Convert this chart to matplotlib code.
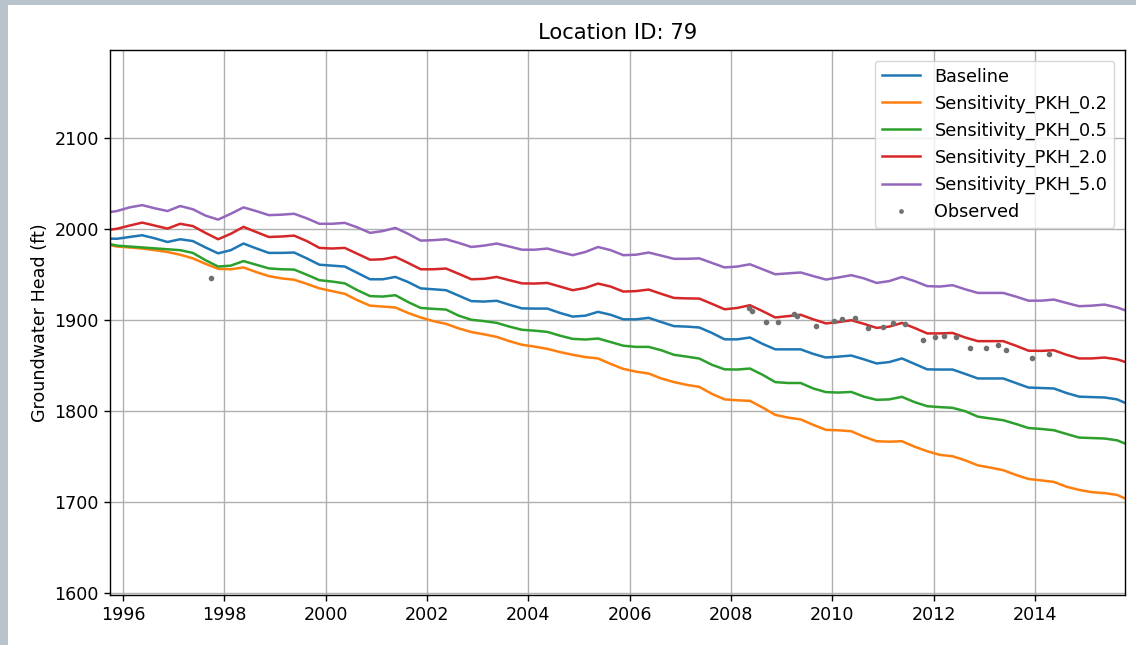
import numpy as np
import matplotlib
matplotlib.use("Agg")
import matplotlib.pyplot as plt
from matplotlib.patches import Rectangle

# time grid: Oct 1995, then quarterly mid-points (Y+.125, .375, .625, .875), end Sep 2015
quarters = [0.125, 0.375, 0.625, 0.875]
time = [1995.75, 1995.875] + [y + q for y in range(1996, 2015) for q in quarters] \
       + [2015.125, 2015.375, 2015.625, 2015.78]

baseline = [1989.7, 1989.5,
    1991.5, 1993.4, 1990, 1986,
    1989, 1987, 1980, 1973.5,
    1977, 1984.3, 1979, 1974,
    1974, 1974.4, 1968, 1961,
    1960, 1959, 1952, 1945,
    1945, 1947.6, 1942, 1935,
    1934, 1933, 1927, 1921,
    1920.5, 1921.4, 1917, 1913,
    1912.8, 1912.8, 1908, 1904,
    1905, 1909.2, 1906, 1901,
    1901, 1902.6, 1898, 1893.5,
    1893, 1892, 1886, 1879,
    1879, 1881, 1874, 1868,
    1868, 1868, 1863, 1859,
    1860, 1861.2, 1857, 1852.5,
    1854, 1858, 1852, 1846,
    1845.8, 1845.8, 1841, 1836,
    1836, 1836, 1831, 1826,
    1825.5, 1825, 1820, 1816,
    1815.5, 1815.1, 1813, 1809.2]

pkh_02 = [1982.4, 1981,
    1980, 1978.8, 1977, 1975,
    1972, 1968, 1962, 1956.5,
    1956, 1958, 1953, 1948.5,
    1946, 1944.5, 1940, 1935,
    1932, 1929, 1922, 1916,
    1915, 1914, 1908, 1903,
    1899, 1896, 1891, 1887,
    1884.5, 1881.7, 1877, 1873,
    1871, 1868.5, 1865, 1862,
    1859.5, 1858, 1852, 1846.5,
    1843.5, 1841.4, 1836, 1832,
    1829, 1826.7, 1819, 1813,
    1812, 1811.4, 1804, 1796,
    1793, 1791, 1785, 1779.5,
    1779, 1778, 1772, 1767,
    1766.5, 1767, 1761, 1756,
    1752, 1750.5, 1746, 1740.5,
    1738, 1735.2, 1730, 1725.5,
    1724, 1722.3, 1717, 1713.5,
    1711, 1710, 1708, 1704.1]

pkh_05 = [1983.5, 1982,
    1981, 1980, 1979, 1978,
    1977, 1974, 1966, 1959,
    1960, 1965, 1961, 1957,
    1956, 1955.7, 1950, 1944,
    1942.5, 1940.5, 1933, 1926.5,
    1926, 1927.5, 1920, 1913.5,
    1912.5, 1911.7, 1905, 1900.5,
    1899, 1897.1, 1893, 1889.5,
    1888.5, 1887.2, 1883, 1879.5,
    1878.8, 1879.9, 1876, 1872,
    1870.7, 1870.7, 1867, 1862,
    1860, 1857.9, 1851, 1846,
    1845.8, 1846.9, 1840, 1832,
    1831, 1831, 1825, 1821,
    1820.5, 1821.2, 1816, 1812.5,
    1813, 1815.8, 1810, 1805.5,
    1804.5, 1803.7, 1800, 1794,
    1792, 1790.1, 1786, 1781.5,
    1780.5, 1779.1, 1775, 1771,
    1770.5, 1770, 1768, 1764.5]

pkh_20 = [1999.6, 2000.5,
    2004, 2007.3, 2004, 2000.7,
    2006, 2003.5, 1996, 1989,
    1995, 2002.6, 1997, 1991.5,
    1992, 1993, 1987, 1979.5,
    1978.8, 1979.5, 1973, 1966.5,
    1967, 1969.6, 1963, 1956,
    1956, 1956.8, 1951, 1945,
    1945.5, 1947.6, 1944, 1940.5,
    1940.3, 1941, 1937, 1933,
    1935.5, 1940.3, 1937, 1931.5,
    1932, 1933.7, 1929, 1924.5,
    1924, 1923.8, 1918, 1912,
    1913.5, 1916.5, 1910, 1903,
    1904.5, 1906, 1901, 1896.5,
    1898, 1900, 1896, 1891.6,
    1893, 1897, 1891.5, 1885.5,
    1885.5, 1886, 1881, 1877,
    1877, 1877, 1872, 1866.5,
    1866.3, 1867, 1862, 1858,
    1858, 1859, 1857, 1854.2]

pkh_50 = [2019, 2020,
    2024, 2026.5, 2023, 2020,
    2025.5, 2022, 2015, 2010.6,
    2017, 2024, 2020, 2015.5,
    2016, 2017, 2012, 2006,
    2006, 2007, 2002, 1996,
    1998, 2001.5, 1995, 1987.5,
    1988, 1989, 1985, 1980.5,
    1982, 1984.3, 1981, 1977.5,
    1977.5, 1978.8, 1975, 1971.5,
    1975, 1980.5, 1977, 1971.5,
    1972, 1974.4, 1971, 1967.5,
    1967.5, 1968, 1963, 1958,
    1959, 1961.5, 1956, 1950.5,
    1951.5, 1952.5, 1948.5, 1944.7,
    1947, 1949.5, 1946, 1941,
    1943, 1947.5, 1943, 1937.5,
    1937, 1938.5, 1934, 1930,
    1930, 1930, 1926, 1921.5,
    1921.5, 1922.7, 1919, 1915.4,
    1916, 1917.2, 1914, 1911]

obs_time = [1997.74, 2008.35, 2008.42, 2008.69, 2008.93, 2009.25, 2009.31, 2009.67,
            2010.04, 2010.2, 2010.45, 2010.7, 2011.0, 2011.19, 2011.44, 2011.79,
            2012.02, 2012.2, 2012.45, 2012.71, 2013.04, 2013.27, 2013.43, 2013.94, 2014.27]
obs_head = [1946.5, 1913, 1910, 1898, 1898, 1906.5, 1905, 1893.4,
            1899.3, 1900.8, 1901.9, 1891.8, 1892.9, 1897.3, 1895.5, 1878.3,
            1881.3, 1883, 1881.3, 1870, 1869.8, 1872.5, 1867.8, 1859, 1862.6]

series_names = ["Baseline", "Sensitivity_PKH_0.2", "Sensitivity_PKH_0.5",
                "Sensitivity_PKH_2.0", "Sensitivity_PKH_5.0"]
series_values = [baseline, pkh_02, pkh_05, pkh_20, pkh_50]
series_colors = ["#1f77b4", "#ff7f0e", "#2ca02c", "#d62728", "#9467bd"]

x_ticks = list(range(1996, 2015, 2))
y_ticks = [1600, 1700, 1800, 1900, 2000, 2100]

fig = plt.figure(figsize=(11.36, 6.45), dpi=100)
fig.patch.set_facecolor("#b9c3cb")
fig.add_artist(Rectangle((8 / 1136, 0), 1, 1 - 5 / 645, transform=fig.transFigure,
                         facecolor="white", edgecolor="none", zorder=0))
ax = fig.add_axes([110 / 1136, 1 - 595 / 645, 1015 / 1136, 545 / 645])

for name, vals, col in zip(series_names, series_values, series_colors):
    ax.plot(time, vals, color=col, lw=1.8, label=name, solid_joinstyle="round")
ax.plot(obs_time, obs_head, ls="none", marker="o", ms=3.0, color="#707070",
        label="Observed")

ax.set_xlim(1995.74, 2015.78)
ax.set_ylim(1598, 2197)
ax.set_xticks(x_ticks)
ax.set_xticklabels([str(t) for t in x_ticks])
ax.set_yticks(y_ticks)
ax.tick_params(labelsize=12.6, length=4.5, width=1.0)
ax.grid(True, color="#b0b0b0", lw=1.0)
ax.set_axisbelow(True)
for s in ax.spines.values():
    s.set_linewidth(1.0)
ax.set_ylabel("Groundwater Head (ft)", fontsize=12.6)
ax.set_title("Location ID: 79", fontsize=15.2, pad=8)
leg = ax.legend(loc="upper right", fontsize=12.7, markerscale=0.8,
                borderaxespad=0.6, handlelength=2.2)

fig.savefig("out.png", dpi=100, facecolor=fig.get_facecolor())
